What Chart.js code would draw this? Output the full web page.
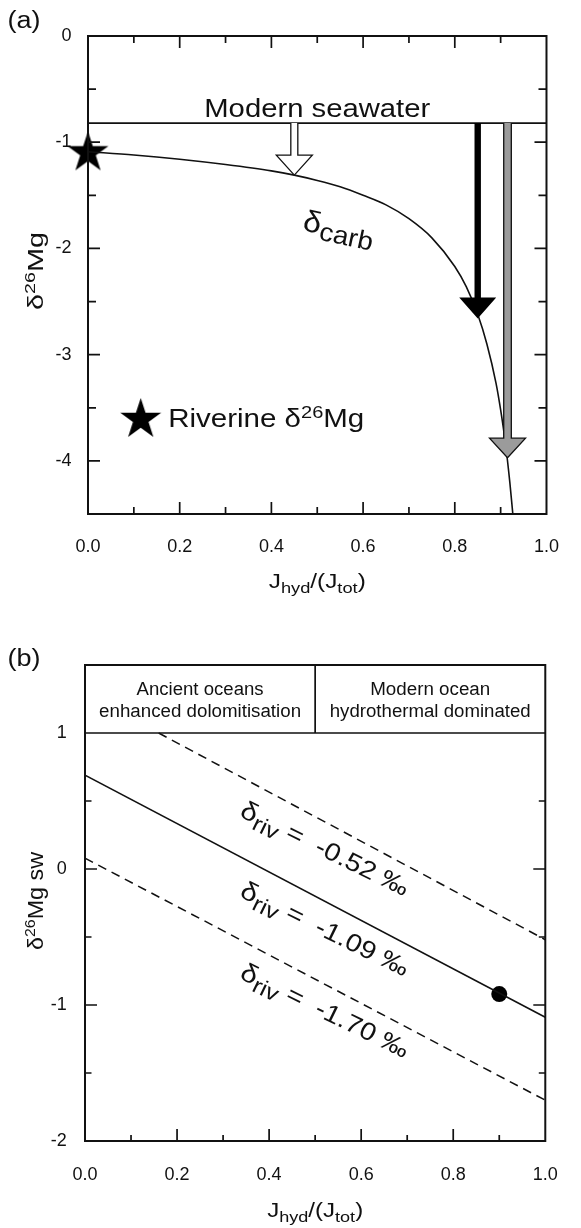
<!DOCTYPE html>
<html><head><meta charset="utf-8">
<script src="https://cdn.jsdelivr.net/npm/chart.js@4.4.1/dist/chart.umd.min.js"></script>
<style>
html,body{margin:0;padding:0;background:#fff;}
#wrap{position:relative;width:581px;height:1228px;background:#fff;}
canvas{position:absolute;left:0;}
#ca{top:0;} #cb{top:614px;}
</style></head><body>
<div id="wrap"><canvas id="ca" width="581" height="614"></canvas><canvas id="cb" width="581" height="614"></canvas></div>
<script>
// ---------- data ----------
// panel (a)
const carbX = [0, 0.1, 0.2, 0.3, 0.4, 0.45, 0.5, 0.55, 0.6, 0.65, 0.7, 0.75, 0.8, 0.825, 0.85, 0.87, 0.89, 0.9, 0.91, 0.92, 0.927];
const carbY = [-1.09, -1.12, -1.16, -1.21, -1.27, -1.31, -1.36, -1.42, -1.50, -1.59, -1.72, -1.90, -2.17, -2.36, -2.62, -2.90, -3.27, -3.52, -3.82, -4.20, -4.52];
const seawaterX = [0, 1];
const seawaterY = [-0.82, -0.82];
const arrowX = [0.45, 0.85, 0.915];
const arrowTipY = [-1.31, -2.66, -3.97];
const starX = [0, 0.115];
const starY = [-1.10, -3.61];
// panel (b)
const solidX = [0, 1];
const solidY = [0.69, -1.09];
const dashHiX = [0.16, 1];
const dashHiY = [1.0, -0.52];
const dashLoX = [0, 1];
const dashLoY = [0.08, -1.70];
const dotX = [0.9];
const dotY = [-0.92];
const rivLabels = ['-0.52', '-1.09', '-1.70'];
const regionLabels = [['Ancient oceans', 'enhanced dolomitisation'], ['Modern ocean', 'hydrothermal dominated']];
const regionSplit = 0.5;
// ticks
const xTickValues = [0, 0.2, 0.4, 0.6, 0.8, 1.0];
const xTickLabels = ['0.0', '0.2', '0.4', '0.6', '0.8', '1.0'];
const yTickValuesA = [0, -1, -2, -3, -4];
const yTickLabelsA = ['0', '-1', '-2', '-3', '-4'];
const yTickValuesB = [1, 0, -1, -2];
const yTickLabelsB = ['1', '0', '-1', '-2'];
const xMinorA = [0.1, 0.2, 0.3, 0.4, 0.5, 0.6, 0.7, 0.8, 0.9];
const yMinorA = [-0.5, -1, -1.5, -2, -2.5, -3, -3.5, -4];
const yMinorB = [0.5, 0, -0.5, -1, -1.5];

// ---------- helpers ----------
const FAM = '"Liberation Sans", Arial, Helvetica, sans-serif';
const INK = '#111';
const pts = (xs, ys) => xs.map((x, i) => ({x: x, y: ys[i]}));
function setFont(ctx, s) { ctx.font = s + 'px ' + FAM; }
function richText(ctx, parts, x, y, o) {
  o = o || {};
  ctx.save();
  ctx.translate(x, y);
  if (o.angle) ctx.rotate(o.angle * Math.PI / 180);
  let nat = 0;
  for (const p of parts) { setFont(ctx, p.s); nat += ctx.measureText(p.t).width; }
  const sx = o.w ? o.w / nat : 1;
  ctx.scale(sx, 1);
  let cx = o.align === 'center' ? -nat / 2 : (o.align === 'right' ? -nat : 0);
  ctx.textAlign = 'left';
  ctx.textBaseline = o.base || 'alphabetic';
  ctx.fillStyle = INK;
  for (const p of parts) { setFont(ctx, p.s); ctx.fillText(p.t, cx, p.dy || 0); cx += ctx.measureText(p.t).width; }
  ctx.restore();
}
function starImage(R) {
  const s = Math.ceil(2 * R + 4);
  const c = document.createElement('canvas');
  c.width = s; c.height = s;
  const g = c.getContext('2d');
  g.translate(s / 2, s / 2);
  g.beginPath();
  for (let i = 0; i < 10; i++) {
    const ang = -Math.PI / 2 + i * Math.PI / 5;
    const r = i % 2 === 0 ? R : R * 0.382;
    const px = Math.cos(ang) * r, py = Math.sin(ang) * r;
    if (i === 0) g.moveTo(px, py); else g.lineTo(px, py);
  }
  g.closePath();
  g.fillStyle = '#000';
  g.fill();
  return c;
}
function drawTicks(chart, cfg) {
  const {ctx, chartArea: a, scales: {x, y}} = chart;
  ctx.save();
  ctx.strokeStyle = INK; ctx.lineWidth = 1.7;
  ctx.beginPath();
  for (const v of cfg.xs) {
    const px = x.getPixelForValue(v);
    const major = Math.abs(Math.round(v * 5) - v * 5) < 1e-6;
    const L = major ? cfg.xMaj : cfg.xMin;
    ctx.moveTo(px, a.bottom); ctx.lineTo(px, a.bottom - L);
    if (cfg.top) { ctx.moveTo(px, a.top); ctx.lineTo(px, a.top + L); }
  }
  for (const v of cfg.ys) {
    const py = y.getPixelForValue(v);
    const major = Math.abs(Math.round(v) - v) < 1e-6;
    const L = major ? cfg.yMaj : cfg.yMin;
    ctx.moveTo(a.left, py); ctx.lineTo(a.left + L, py);
    ctx.moveTo(a.right, py); ctx.lineTo(a.right - L, py);
  }
  ctx.stroke();
  ctx.lineWidth = 2;
  ctx.strokeRect(a.left, a.top, a.right - a.left, a.bottom - a.top);
  ctx.restore();
}
function drawArrow(ctx, px, y0, yTip, st) {
  ctx.save();
  ctx.beginPath();
  ctx.moveTo(px - st.sh, y0);
  ctx.lineTo(px - st.sh, yTip - st.hl);
  ctx.lineTo(px - st.hh, yTip - st.hl);
  ctx.lineTo(px, yTip);
  ctx.lineTo(px + st.hh, yTip - st.hl);
  ctx.lineTo(px + st.sh, yTip - st.hl);
  ctx.lineTo(px + st.sh, y0);
  ctx.fillStyle = st.fill;
  ctx.fill();
  if (st.stroke) { ctx.lineWidth = 1.3; ctx.strokeStyle = INK; ctx.lineJoin = 'miter'; ctx.stroke(); }
  ctx.restore();
}
function options(o) {
  return {
    responsive: false, animation: false, devicePixelRatio: 1,
    layout: {padding: o.pad},
    plugins: {legend: {display: false}, tooltip: {enabled: false}},
    scales: {
      x: {
        type: 'linear', min: 0, max: 1,
        afterBuildTicks: s => { s.ticks = xTickValues.map(v => ({value: v})); },
        afterFit: s => { s.height = o.xh; },
        grid: {display: false, drawTicks: false, tickLength: 0},
        border: {display: false},
        ticks: {callback: (v, i) => xTickLabels[i], font: {size: 18, family: FAM}, color: INK, padding: o.xpad, maxRotation: 0, minRotation: 0, autoSkip: false}
      },
      y: {
        type: 'linear', min: o.ymin, max: o.ymax,
        afterBuildTicks: s => { s.ticks = o.yt.map(v => ({value: v})); },
        afterFit: s => { s.width = o.yw; },
        grid: {display: false, drawTicks: false, tickLength: 0},
        border: {display: false},
        ticks: {callback: (v, i) => o.yl[i], font: {size: 18, family: FAM}, color: INK, padding: o.ypad, autoSkip: false}
      }
    }
  };
}

// ---------- panel (a) ----------
const plugA = {
  id: 'decorA',
  afterDatasetsDraw(chart) {
    const {ctx, scales: {x, y}} = chart;
    const y0 = y.getPixelForValue(seawaterY[0]);
    const styles = [
      {sh: 3.5, hh: 18, hl: 20, fill: '#ffffff', stroke: true},
      {sh: 3.2, hh: 18.5, hl: 21, fill: '#000000', stroke: false},
      {sh: 3.8, hh: 18, hl: 19.5, fill: '#9b9b9b', stroke: true}
    ];
    arrowX.forEach((v, i) => drawArrow(ctx, x.getPixelForValue(v), y0, y.getPixelForValue(arrowTipY[i]), styles[i]));
  },
  afterDraw(chart) {
    const {ctx, chartArea: a, scales: {x, y}} = chart;
    drawTicks(chart, {xs: xMinorA, ys: yMinorA, xMaj: 12, xMin: 7, yMaj: 12, yMin: 8, top: true});
    richText(ctx, [{t: 'Modern seawater', s: 25}], x.getPixelForValue(0.5), y.getPixelForValue(seawaterY[0]) - 6, {align: 'center', w: 226});
    richText(ctx, [{t: 'δ', s: 30}, {t: 'carb', s: 26, dy: 7}], x.getPixelForValue(0.547), y.getPixelForValue(-1.82), {align: 'center', base: 'middle', angle: 12, w: 72});
    richText(ctx, [{t: 'Riverine δ', s: 25}, {t: '26', s: 17, dy: -9}, {t: 'Mg', s: 25}], x.getPixelForValue(0.175), y.getPixelForValue(-3.68), {align: 'left', w: 196});
    richText(ctx, [{t: 'δ', s: 22}, {t: '26', s: 15, dy: -8}, {t: 'Mg', s: 22}], a.left - 45, a.top + 235, {align: 'center', angle: -90, w: 78});
    richText(ctx, [{t: 'J', s: 20}, {t: 'hyd', s: 15, dy: 5}, {t: '/(J', s: 20}, {t: 'tot', s: 15, dy: 5}, {t: ')', s: 20}], x.getPixelForValue(0.5), a.bottom + 74, {align: 'center', w: 97});
    richText(ctx, [{t: '(a)', s: 23}], 24, 22, {align: 'center', base: 'middle', w: 33});
  }
};
const starImg = starImage(21.5);
new Chart(document.getElementById('ca'), {
  type: 'scatter',
  data: {datasets: [
    {data: pts(carbX, carbY), showLine: true, borderColor: INK, borderWidth: 1.6, pointRadius: 0, cubicInterpolationMode: 'monotone', fill: false},
    {data: pts(seawaterX, seawaterY), showLine: true, borderColor: INK, borderWidth: 1.6, pointRadius: 0, fill: false},
    {data: pts(starX, starY), showLine: false, pointStyle: starImg, pointRadius: 22, clip: false}
  ]},
  options: options({pad: {top: 36, right: 14, left: 0, bottom: 0}, xh: 100, xpad: 22, yw: 88, ypad: 16.5, ymin: -4.5, ymax: 0, yt: yTickValuesA, yl: yTickLabelsA}),
  plugins: [plugA]
});

// ---------- panel (b) ----------
const plugB = {
  id: 'decorB',
  afterDraw(chart) {
    const {ctx, chartArea: a, scales: {x, y}} = chart;
    drawTicks(chart, {xs: xMinorA, ys: yMinorB, xMaj: 12, xMin: 6, yMaj: 12, yMin: 6.5, top: false});
    const yh = y.getPixelForValue(1);
    ctx.save();
    ctx.strokeStyle = INK; ctx.lineWidth = 1.7;
    ctx.beginPath();
    ctx.moveTo(a.left, yh); ctx.lineTo(a.right, yh);
    const xs = x.getPixelForValue(regionSplit);
    ctx.moveTo(xs, yh); ctx.lineTo(xs, a.top);
    ctx.stroke();
    ctx.restore();
    const widths = [[127, 202], [120, 201]];
    regionLabels.forEach((lines, i) => {
      const cx = x.getPixelForValue(i === 0 ? 0.25 : 0.75);
      richText(ctx, [{t: lines[0], s: 18}], cx, yh - 38, {align: 'center', w: widths[i][0]});
      richText(ctx, [{t: lines[1], s: 18}], cx, yh - 16, {align: 'center', w: widths[i][1]});
    });
    const labY = [0.14, -0.45, -1.05];
    rivLabels.forEach((lab, i) => {
      richText(ctx, [{t: 'δ', s: 26}, {t: 'riv', s: 22, dy: 7}, {t: ' =  ' + lab + ' ‰', s: 25}],
        x.getPixelForValue(0.52), y.getPixelForValue(labY[i]), {align: 'center', base: 'middle', angle: 26, w: 184});
    });
    richText(ctx, [{t: 'δ', s: 22}, {t: '26', s: 15, dy: -8}, {t: 'Mg sw', s: 22}], a.left - 42, a.top + 236, {align: 'center', angle: -90, w: 98});
    richText(ctx, [{t: 'J', s: 20}, {t: 'hyd', s: 15, dy: 5}, {t: '/(J', s: 20}, {t: 'tot', s: 15, dy: 5}, {t: ')', s: 20}], x.getPixelForValue(0.5), a.bottom + 75.7, {align: 'center', w: 96});
    richText(ctx, [{t: '(b)', s: 23}], 24, 46, {align: 'center', base: 'middle', w: 33});
  }
};
new Chart(document.getElementById('cb'), {
  type: 'scatter',
  data: {datasets: [
    {data: pts(solidX, solidY), showLine: true, borderColor: INK, borderWidth: 1.6, pointRadius: 0, fill: false},
    {data: pts(dashHiX, dashHiY), showLine: true, borderColor: INK, borderWidth: 1.5, borderDash: [9, 6], pointRadius: 0, fill: false},
    {data: pts(dashLoX, dashLoY), showLine: true, borderColor: INK, borderWidth: 1.5, borderDash: [9, 6], pointRadius: 0, fill: false},
    {data: pts(dotX, dotY), showLine: false, pointRadius: 8, pointBackgroundColor: '#000', pointBorderColor: '#000', pointBorderWidth: 0}
  ]},
  options: options({pad: {top: 51, right: 18, left: 0, bottom: 0}, xh: 87, xpad: 23.2, yw: 85, ypad: 18.3, ymin: -2, ymax: 1.5, yt: yTickValuesB, yl: yTickLabelsB}),
  plugins: [plugB]
});
</script>
</body></html>
